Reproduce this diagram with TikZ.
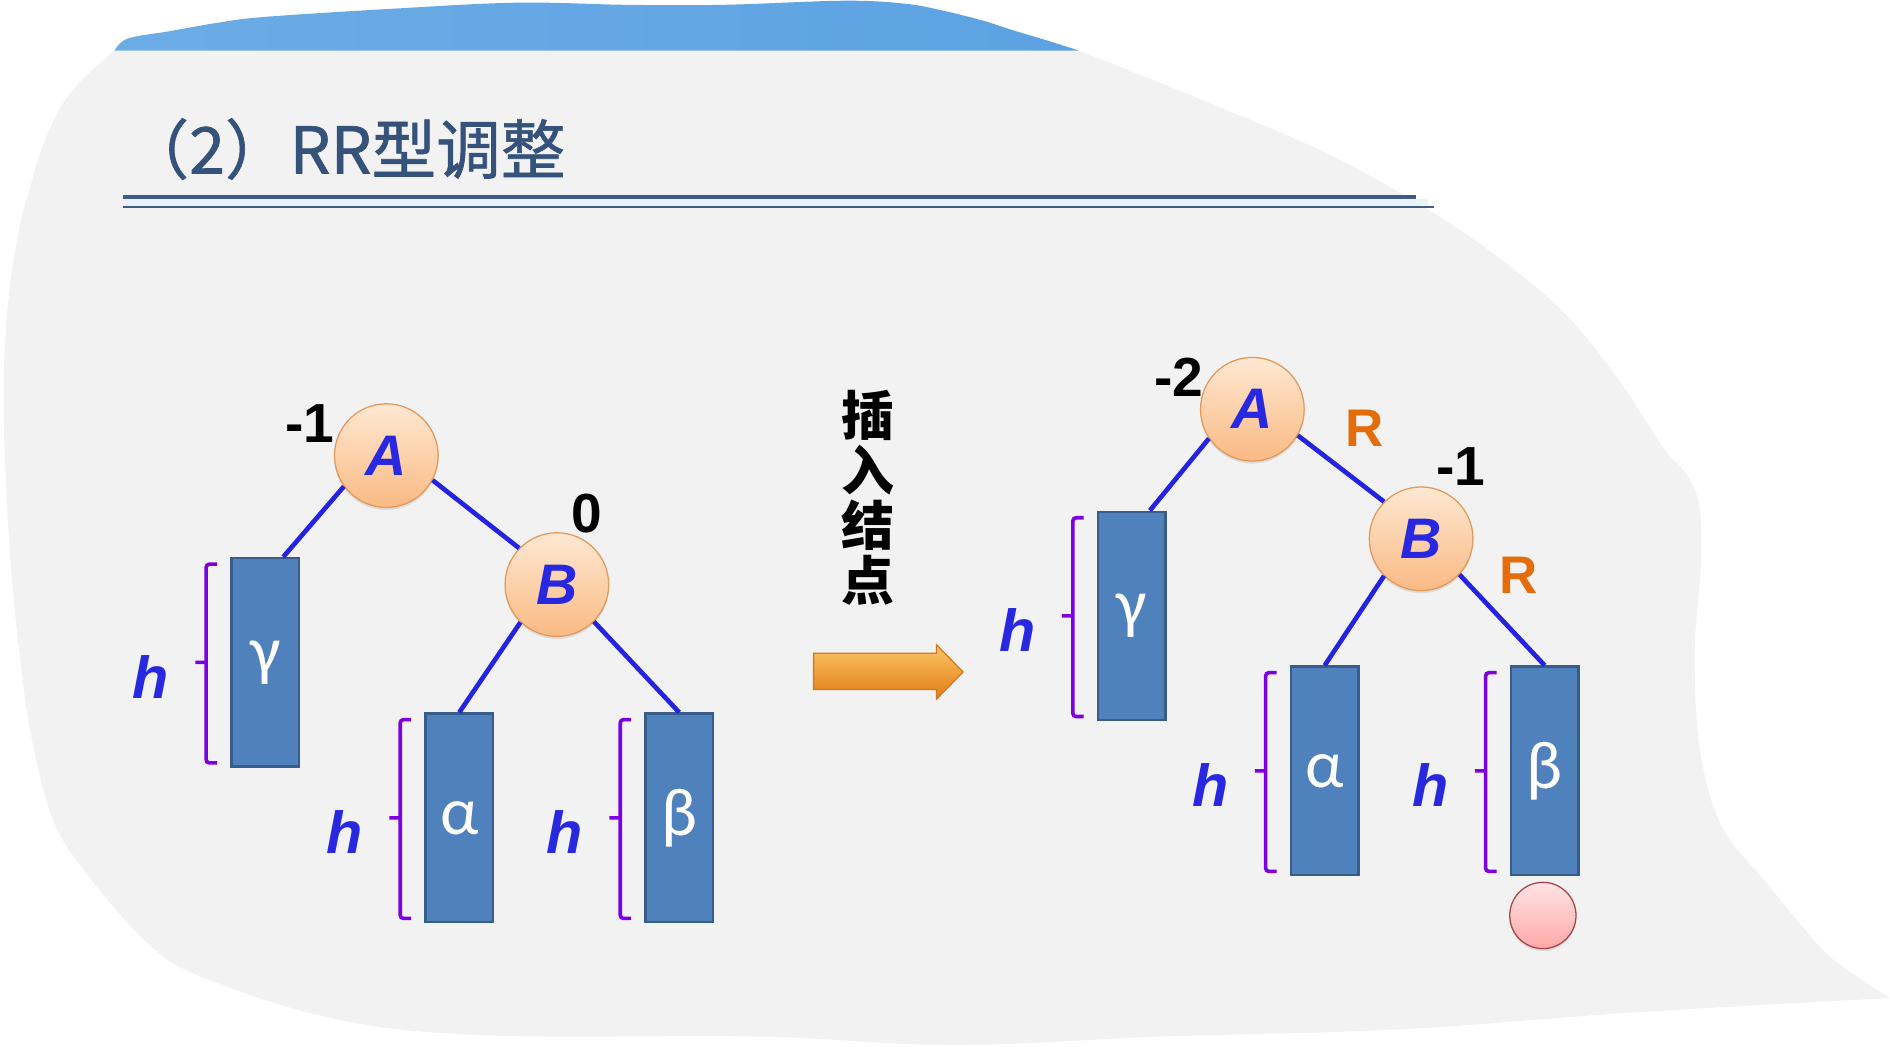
\documentclass[tikz,border=0pt]{standalone}
\usepackage{fontspec}
\setmainfont{Liberation Sans}
\newfontfamily\cjkfont{Noto Sans CJK SC}
\newfontfamily\titlefont[FakeBold=1]{Noto Sans CJK SC}
\newfontfamily\grkfont{Carlito}
\usepackage{tikz}
\usetikzlibrary{calc,positioning,shadows}
\definecolor{blobgray}{RGB}{242,242,242}
\definecolor{capblueA}{RGB}{108,172,230}
\definecolor{capblueB}{RGB}{72,152,224}
\definecolor{capblueC}{RGB}{92,162,226}
\definecolor{titleblue}{RGB}{52,82,122}
\definecolor{ruleblue}{RGB}{62,92,132}
\definecolor{rulestrip}{RGB}{234,241,249}
\definecolor{nodetop}{RGB}{254,232,210}
\definecolor{nodebot}{RGB}{250,186,132}
\definecolor{nodeline}{RGB}{228,152,90}
\definecolor{boxfill}{RGB}{79,129,189}
\definecolor{boxline}{RGB}{56,93,138}
\definecolor{edgeblue}{RGB}{35,35,225}
\definecolor{letterblue}{RGB}{40,40,225}
\definecolor{brkpurple}{RGB}{125,0,225}
\definecolor{rorange}{RGB}{228,108,10}
\definecolor{arrtop}{RGB}{252,198,104}
\definecolor{arrmid}{RGB}{246,160,44}
\definecolor{arrbot}{RGB}{226,124,20}
\definecolor{arrline}{RGB}{214,120,30}
\definecolor{newtop}{RGB}{255,228,228}
\definecolor{newbot}{RGB}{255,168,168}
\definecolor{newline}{RGB}{165,70,70}

\begin{document}
\begin{tikzpicture}[x=0.02cm,y=0.02cm,
      nd/.style={circle,draw=nodeline,line width=0.6pt,top color=nodetop,bottom color=nodebot,minimum size=1.72cm,inner sep=0pt,text=letterblue,font=\fontsize{27}{27}\selectfont\bfseries\itshape,drop shadow={shadow xshift=0pt,shadow yshift=-1.2pt,opacity=0.2}},
      sub/.style={rectangle,draw=boxline,line width=1.1pt,fill=boxfill,minimum width=1.12cm,minimum height=3.46cm,inner sep=0pt,text=white,font=\grkfont\fontsize{32}{32}\selectfont},
      bf/.style={inner sep=0pt,font=\fontsize{26}{26}\selectfont\bfseries},
      rl/.style={inner sep=0pt,text=rorange,font=\fontsize{25}{25}\selectfont\bfseries},
      hl/.style={inner sep=0pt,text=letterblue,font=\fontsize{28}{28}\selectfont\bfseries\itshape},
      brk/.style={draw=brkpurple,line width=1.7pt,rounded corners=1.5pt},
      link/.style={draw=edgeblue,line width=2.2pt},
      newnd/.style={circle,draw=newline,line width=0.6pt,top color=newtop,bottom color=newbot,minimum size=1.1cm,inner sep=0pt,drop shadow={shadow xshift=0pt,shadow yshift=-1.2pt,opacity=0.2}}]
    \useasboundingbox[fill=white] (0,0) rectangle (1568,-868);
    % slide background
    \fill[blobgray] (95,-42) -- plot[smooth,tension=0.6] coordinates {(895,-42) (1000,-84) (1100,-127) (1180,-171) (1245,-215) (1300,-262) (1345,-318) (1380,-372) (1400,-395) (1410,-422) (1411,-470) (1406,-540) (1410,-620) (1428,-685) (1466,-733) (1493,-766) (1521,-796) (1568,-828)}
      -- plot[smooth,tension=0.6] coordinates {(1568,-828) (1355,-840) (1161,-854) (963,-860) (792,-867) (630,-860) (407,-859) (281,-846) (166,-810) (119,-779) (69,-721) (44,-680) (27,-616) (17,-549) (8,-455) (3,-338) (6,-260) (14,-200) (25,-155) (40,-110) (60,-75) (95,-42)} -- cycle;
    \shade[left color=capblueA,middle color=capblueB,right color=capblueC] (95,-42) -- plot[smooth,tension=0.6] coordinates {(95,-42) (106,-32) (140,-26) (180,-19) (220,-14) (330,-7) (430,-2.2) (520,-4) (600,-4) (700,-0.6) (750,-3) (780,-8.3) (815,-17) (840,-25) (870,-34) (895,-42)} -- cycle;
    % title
    \node[anchor=base west,inner sep=0pt,text=titleblue,font=\titlefont\fontsize{30.5}{31}\selectfont] (title) at (103,-144) {（2）RR型调整};
    \fill[rulestrip] (102,-165) rectangle (1185,-170);
    \draw[ruleblue,line width=1.5pt] (102,-163.5) -- (1175,-163.5);
    \draw[ruleblue,line width=0.8pt] (102,-171.5) -- (1190,-171.5);

    % before insertion
    \node[nd] (A1) at (320.5,-378) {A};
    \node[nd] (B1) at (462,-485) {B};
    \node[sub] (g1) at (220,-549.5) {γ};
    \node[sub] (a1) at (381,-678.5) {α};
    \node[sub] (b1) at (563.5,-678.5) {β};
    \draw[link] (A1.216) -- ($(g1.north)+(15,0)$);
    \draw[link] (A1.332) -- (B1.136);
    \draw[link] (B1.226) -- (a1.north);
    \draw[link] (B1.315) -- (b1.north);
    \node[bf] (fA1) at (257,-351) {-1};
    \node[bf] (fB1) at (487,-426) {0};

    % after insertion
    \node[nd] (A2) at (1039,-339.5) {A};
    \node[nd] (B2) at (1179,-447) {B};
    \node[sub] (g2) at (939,-511) {γ};
    \node[sub] (a2) at (1099,-639.5) {α};
    \node[sub] (b2) at (1281.5,-639.5) {β};
    \draw[link] (A2.214) -- ($(g2.north)+(15,0)$);
    \draw[link] (A2.330) -- (B2.135);
    \draw[link] (B2.225) -- (a2.north);
    \draw[link] (B2.317) -- (b2.north);
    \node[bf] (fA2) at (978,-313) {-2};
    \node[bf] (fB2) at (1212,-387) {-1};
    \node[rl] (r1) at (1132,-355) {R};
    \node[rl] (r2) at (1260,-477) {R};
    \node[newnd] (new) at (1280,-759.5) {};

    % heights
    \draw[brk] ($(g1.north west)+(-11,-6)$) -| ($(g1.west)+(-20,0)$) |- ($(g1.south west)+(-11,4)$) ($(g1.west)+(-20,0)$) -- ++(-9,0);
    \draw[brk] ($(a1.north west)+(-11,-6)$) -| ($(a1.west)+(-20,0)$) |- ($(a1.south west)+(-11,4)$) ($(a1.west)+(-20,0)$) -- ++(-9,0);
    \draw[brk] ($(b1.north west)+(-11,-6)$) -| ($(b1.west)+(-20,0)$) |- ($(b1.south west)+(-11,4)$) ($(b1.west)+(-20,0)$) -- ++(-9,0);
    \draw[brk] ($(g2.north west)+(-11,-6)$) -| ($(g2.west)+(-20,0)$) |- ($(g2.south west)+(-11,4)$) ($(g2.west)+(-20,0)$) -- ++(-9,0);
    \draw[brk] ($(a2.north west)+(-11,-6)$) -| ($(a2.west)+(-20,0)$) |- ($(a2.south west)+(-11,4)$) ($(a2.west)+(-20,0)$) -- ++(-9,0);
    \draw[brk] ($(b2.north west)+(-11,-6)$) -| ($(b2.west)+(-20,0)$) |- ($(b2.south west)+(-11,4)$) ($(b2.west)+(-20,0)$) -- ++(-9,0);
    \node[hl] (hg1) at ($(g1.west)+(-66,-12)$) {h};
    \node[hl] (ha1) at ($(a1.west)+(-66,-12)$) {h};
    \node[hl] (hb1) at ($(b1.west)+(-66,-12)$) {h};
    \node[hl] (hg2) at ($(g2.west)+(-66,-12)$) {h};
    \node[hl] (ha2) at ($(a2.west)+(-66,-12)$) {h};
    \node[hl] (hb2) at ($(b2.west)+(-66,-12)$) {h};

    % insertion step
    \node[align=center,inner sep=0pt,font=\cjkfont\bfseries\fontsize{25}{26}\selectfont] (ins) at (720,-413) {插\\入\\结\\点};
    \shade[top color=arrtop,middle color=arrmid,bottom color=arrbot,draw=arrline,line width=0.6pt]
      (675,-542) -- (777,-542) -- (777,-535) -- (799,-557.5) -- (777,-580) -- (777,-572) -- (675,-572) -- cycle;
  \end{tikzpicture}
\end{document}
